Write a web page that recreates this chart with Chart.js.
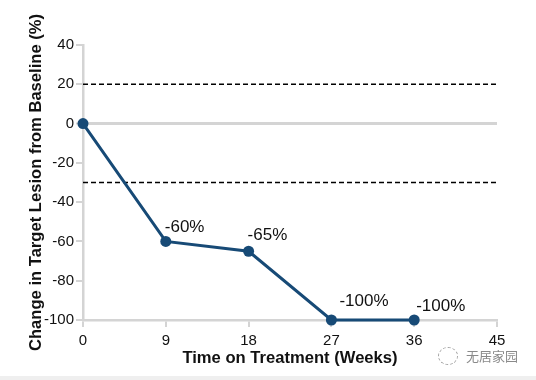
<!DOCTYPE html>
<html>
<head>
<meta charset="utf-8">
<script src="https://cdn.jsdelivr.net/npm/chart.js@4/dist/chart.umd.min.js"></script>
<style>
  html, body { margin: 0; padding: 0; background: #efefef; }
  #wrap { position: relative; width: 536px; height: 376px; background: #ffffff; }
  #c { display: block; }
  #wm { position: absolute; left: 438px; top: 346px; font: 13px "Noto Sans CJK SC", sans-serif; color: #8a8a8a; display: flex; align-items: center; gap: 8px; }
  #wm .ic { width: 18px; height: 16px; border: 1px dashed #a0a0a0; border-radius: 50%; }
</style>
</head>
<body>
<div id="wrap">
  <canvas id="c" width="536" height="376"></canvas>
  <div id="wm"><span class="ic"></span><span>无居家园</span></div>
</div>
<script>
const weeks = [0, 9, 18, 27, 36];
const changePct = [0, -60, -65, -100, -100];
const pointLabels = ['', '-60%', '-65%', '-100%', '-100%'];
const thresholds = [20, -30];
const xTicks = [0, 9, 18, 27, 36, 45];
const yTicks = [-100, -80, -60, -40, -20, 0, 20, 40];
const xTitle = 'Time on Treatment (Weeks)';
const yTitle = 'Change in Target Lesion from Baseline (%)';

const navy = '#174a76';
const axisGray = '#d4d4d4';
const labelOffsets = [[0, 0], [-1, -9], [-1, -11], [8, -14], [2, -9]];

const labelPlugin = {
  id: 'ptLabels',
  afterDatasetsDraw(chart) {
    const ctx = chart.ctx;
    const meta = chart.getDatasetMeta(0);
    ctx.save();
    ctx.font = '17px "Liberation Sans", Arial, sans-serif';
    ctx.fillStyle = '#111';
    ctx.textAlign = 'left';
    ctx.textBaseline = 'alphabetic';
    meta.data.forEach((pt, i) => {
      if (!pointLabels[i]) return;
      const [dx, dy] = labelOffsets[i];
      ctx.fillText(pointLabels[i], pt.x + dx, pt.y + dy);
    });
    ctx.restore();
  }
};

const datasets = [{
  data: weeks.map((w, i) => ({ x: w, y: changePct[i] })),
  borderColor: navy,
  backgroundColor: navy,
  borderWidth: 3,
  pointRadius: 5.5,
  pointHoverRadius: 5.5,
  pointBorderWidth: 0,
  clip: false,
  order: 0
}];
thresholds.forEach(t => {
  datasets.push({
    data: [{ x: xTicks[0], y: t }, { x: xTicks[xTicks.length - 1], y: t }],
    borderColor: '#000',
    borderWidth: 1.6,
    borderDash: [5, 3],
    pointRadius: 0,
    clip: false,
    order: 1
  });
});

const fam = '"Liberation Sans", Arial, sans-serif';

new Chart(document.getElementById('c'), {
  type: 'line',
  data: { datasets },
  plugins: [labelPlugin],
  options: {
    responsive: false,
    animation: false,
    events: [],
    layout: { padding: { left: 20, right: 39, top: 45, bottom: 0 } },
    plugins: { legend: { display: false }, tooltip: { enabled: false } },
    scales: {
      x: {
        type: 'linear',
        min: xTicks[0],
        max: xTicks[xTicks.length - 1],
        afterBuildTicks: s => { s.ticks = xTicks.map(v => ({ value: v })); },
        afterFit: s => { s.height = 56; },
        border: { color: axisGray, width: 2.5 },
        grid: { drawOnChartArea: false, color: axisGray, tickLength: 7, lineWidth: 2 },
        ticks: { color: '#111', padding: 5, font: { family: fam, size: 15 } },
        title: { display: true, text: xTitle, color: '#111', padding: { top: 0, bottom: 8 },
                 font: { family: fam, size: 16.6, weight: 'bold' } }
      },
      y: {
        type: 'linear',
        min: yTicks[0],
        max: yTicks[yTicks.length - 1],
        afterBuildTicks: s => { s.ticks = yTicks.map(v => ({ value: v })); },
        afterFit: s => { s.width = 63; },
        border: { color: axisGray, width: 2.5 },
        grid: {
          drawOnChartArea: true,
          color: c => (c.tick && c.tick.value === 0) ? axisGray : 'rgba(0,0,0,0)',
          tickColor: axisGray,
          lineWidth: c => (c.tick && c.tick.value === 0) ? 3 : 2,
          tickWidth: 2,
          tickLength: 7
        },
        ticks: { color: '#111', padding: 2, font: { family: fam, size: 15 } },
        title: { display: true, text: yTitle, color: '#111', padding: { top: 6, bottom: 0 },
                 font: { family: fam, size: 16.6, weight: 'bold' } }
      }
    }
  }
});
</script>
</body>
</html>
